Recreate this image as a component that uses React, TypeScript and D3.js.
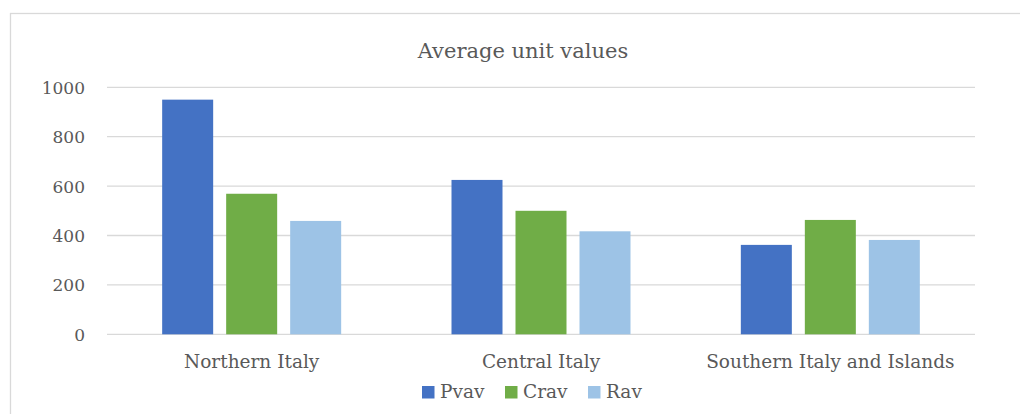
import React from "react";
import * as d3 from "d3";

const categories = ["Northern Italy", "Central Italy", "Southern Italy and Islands"];
const seriesNames = ["Pvav", "Crav", "Rav"];
const pvav = [950, 625, 362];
const crav = [569, 500, 463];
const rav = [459, 417, 382];
const yTicks = [0, 200, 400, 600, 800, 1000];
const colors = ["#4472C4", "#70AD47", "#9DC3E6"];

const W = 1020;
const H = 414;
const FONT = "'DejaVu Serif', serif";
const TEXT = "#595959";

export default function App() {
  const values = [pvav, crav, rav];
  const x = d3.scaleBand<string>().domain(categories).range([107, 975]).padding(0);
  const groupW = 179;
  const xi = d3
    .scaleBand<string>()
    .domain(seriesNames)
    .range([-groupW / 2, groupW / 2])
    .paddingInner(13 / 64)
    .paddingOuter(0);
  const y = d3.scaleLinear().domain([0, 1000]).range([334.3, 87.3]);

  const legendItems = [
    { name: "Pvav", x: 422 },
    { name: "Crav", x: 505 },
    { name: "Rav", x: 588 },
  ];

  return (
    <svg
      width={W}
      height={H}
      style={{ position: "absolute", left: 0, top: 0, background: "#fff" }}
      fontFamily={FONT}
    >
      <rect x={0} y={0} width={W} height={H} fill="#fff" />
      <rect x={10.5} y={13.5} width={1100} height={600} fill="none" stroke="#d9d9d9" strokeWidth={1.3} />
      <text x={523} y={58} textAnchor="middle" fontSize={21} fill={TEXT}>
        Average unit values
      </text>
      {yTicks.map((t) => (
        <g key={t}>
          <line x1={107} x2={975} y1={y(t)} y2={y(t)} stroke="#d9d9d9" strokeWidth={1.3} />
          <text x={85} y={y(t) + 6.5} textAnchor="end" fontSize={17} fill={TEXT}>
            {t}
          </text>
        </g>
      ))}
      {categories.map((c, ci) => (
        <g key={c} transform={`translate(${(x(c) as number) + x.bandwidth() / 2},0)`}>
          {seriesNames.map((s, si) => (
            <rect
              key={s}
              x={xi(s) as number}
              width={xi.bandwidth()}
              y={y(values[si][ci])}
              height={y(0) - y(values[si][ci])}
              fill={colors[si]}
            />
          ))}
          <text x={0} y={368} textAnchor="middle" fontSize={18.5} fill={TEXT}>
            {c}
          </text>
        </g>
      ))}
      {legendItems.map((it, i) => (
        <g key={it.name}>
          <rect x={it.x} y={386} width={12.5} height={12.5} fill={colors[i]} />
          <text x={it.x + 18} y={398} fontSize={18.5} fill={TEXT}>
            {it.name}
          </text>
        </g>
      ))}
    </svg>
  );
}
